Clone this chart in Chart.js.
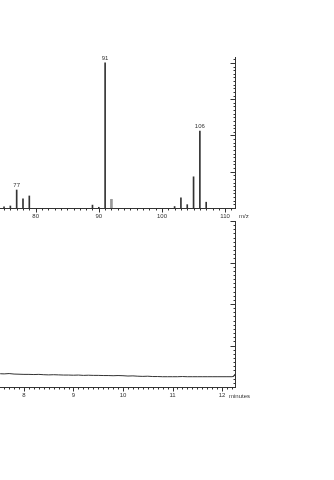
<!DOCTYPE html>
<html>
<head>
<meta charset="utf-8">
<script src="https://cdn.jsdelivr.net/npm/chart.js@4/dist/chart.umd.min.js"></script>
<style>
  html, body { margin: 0; padding: 0; background: #fff; }
  #wrap { position: relative; width: 334px; height: 480px; overflow: hidden; }
  canvas { position: absolute; left: 0; top: 0; }
</style>
</head>
<body>
<div id="wrap">
  <canvas id="spec" width="334" height="480"></canvas>
  <canvas id="tic" width="334" height="480"></canvas>
</div>
<script>
// mass spectrum (relative abundance, %)
const mzValues = [74, 75, 76, 77, 78, 79, 89, 90, 91, 102, 103, 104, 105, 106, 107];
const mzAbund  = [0.6, 0.8, 1.4, 12.4, 6.4, 8.3, 2.0, 0.5, 100, 1.0, 7.0, 2.3, 21.5, 53, 4.0];
const mzGrey   = [92];
const mzGreyAb = [6.0];
const peakLabels = [77, 91, 106];
const mzTicks = [80, 90, 100, 110];

// chromatogram trace (% of full scale)
const rtTimes = [7.52, 7.6, 7.7, 7.8, 7.9, 8.0, 8.1, 8.2, 8.3, 8.4, 8.5, 8.6, 8.7, 8.8, 8.9,
  9.0, 9.1, 9.2, 9.3, 9.4, 9.5, 9.6, 9.7, 9.8, 9.9, 10.0, 10.1, 10.2, 10.3, 10.4, 10.5,
  10.6, 10.7, 10.8, 10.9, 11.0, 11.1, 11.2, 11.3, 11.4, 11.5, 11.6, 11.7, 11.8, 11.9,
  12.0, 12.1, 12.2, 12.24, 12.262];
const rtSignal = [8.0, 7.9, 8.1, 7.8, 7.7, 7.6, 7.6, 7.5, 7.6, 7.4, 7.3, 7.4, 7.3, 7.2, 7.2,
  7.1, 7.2, 7.0, 7.1, 7.0, 7.0, 6.9, 6.9, 6.8, 6.9, 6.8, 6.6, 6.7, 6.5, 6.4, 6.5,
  6.3, 6.3, 6.2, 6.2, 6.2, 6.2, 6.3, 6.2, 6.2, 6.2, 6.2, 6.2, 6.2, 6.2,
  6.2, 6.2, 6.2, 6.4, 7.9];
const rtTicks = [8, 9, 10, 11, 12];

const INK = '#333';
const FONT = { family: "'Liberation Sans', Arial, sans-serif", size: 6 };

// right-hand axis with inward ticks, minor x ticks, unit text, peak labels
const axisDeco = {
  id: 'axisDeco',
  afterDraw(chart, args, o) {
    const { ctx, chartArea: a } = chart;
    const x = chart.scales.x, y = chart.scales.y;
    ctx.save();
    ctx.strokeStyle = INK;
    ctx.lineWidth = 1;
    ctx.beginPath();
    const rx = Math.round(a.right) + 0.5;
    ctx.moveTo(rx, a.top);
    ctx.lineTo(rx, a.bottom);
    const nY = Math.floor(y.max / o.yMinor + 1e-6);
    for (let i = 0; i <= nY; i++) {
      const py = Math.round(y.getPixelForValue(i * o.yMinor)) + 0.5;
      const major = i % o.yEvery === 0;
      ctx.moveTo(rx, py);
      ctx.lineTo(rx - (major ? 5 : 2), py);
    }
    const i0 = Math.ceil(x.min / o.xMinor - 1e-6), i1 = Math.floor(x.max / o.xMinor + 1e-6);
    const by = Math.round(a.bottom) + 0.5;
    for (let i = i0; i <= i1; i++) {
      const px = Math.round(x.getPixelForValue(i * o.xMinor)) + 0.5;
      const major = i % o.xEvery === 0;
      ctx.moveTo(px, by);
      ctx.lineTo(px, by + (major ? 4 : 2));
    }
    ctx.stroke();

    ctx.fillStyle = INK;
    ctx.font = FONT.size + 'px ' + FONT.family;
    ctx.textBaseline = 'middle';
    ctx.textAlign = 'left';
    ctx.fillText(o.unit, o.unitX, o.unitY);

    ctx.textAlign = 'center';
    ctx.textBaseline = 'alphabetic';
    (o.labels || []).forEach(m => {
      const idx = mzValues.indexOf(m);
      ctx.fillText(String(m), x.getPixelForValue(m), y.getPixelForValue(mzAbund[idx]) - 3);
    });
    ctx.restore();
  }
};

function xScale(min, max, ticks, pad) {
  return {
    type: 'linear', min: min, max: max, offset: false,
    afterBuildTicks: s => { s.ticks = ticks.map(v => ({ value: v })); },
    afterFit: s => { s.height = 14; },
    grid: { display: false, drawTicks: false },
    border: { display: true, color: INK, width: 1 },
    ticks: { color: INK, font: FONT, padding: pad, maxRotation: 0, autoSkip: false }
  };
}

new Chart(document.getElementById('spec'), {
  type: 'bar',
  data: {
    datasets: [
      {
        data: mzGrey.map((m, i) => ({ x: m, y: mzGreyAb[i] })),
        backgroundColor: '#9a9a9a', barThickness: 2
      },
      {
        data: mzValues.map((m, i) => ({ x: m, y: mzAbund[i] })),
        backgroundColor: INK, barThickness: 1
      }
    ]
  },
  options: {
    responsive: false, animation: false, grouped: false,
    layout: { padding: { left: 0, right: 99, top: 57, bottom: 480 - 208 - 14 } },
    plugins: {
      legend: { display: false }, tooltip: { enabled: false },
      axisDeco: { yMinor: 2.5, yEvery: 10, xMinor: 1, xEvery: 10, unit: 'm/z', unitX: 239, unitY: 216.5, labels: peakLabels }
    },
    scales: {
      x: xScale(74.36, 111.56, mzTicks, 5),
      y: { display: false, min: 0, max: 104.1 }
    }
  },
  plugins: [axisDeco]
});

new Chart(document.getElementById('tic'), {
  type: 'line',
  data: {
    datasets: [{
      data: rtTimes.map((t, i) => ({ x: t, y: rtSignal[i] })),
      borderColor: INK, borderWidth: 1, pointRadius: 0, tension: 0
    }]
  },
  options: {
    responsive: false, animation: false,
    layout: { padding: { left: 0, right: 99, top: 221, bottom: 480 - 387 - 14 } },
    plugins: {
      legend: { display: false }, tooltip: { enabled: false },
      axisDeco: { yMinor: 2.5, yEvery: 10, xMinor: 0.1, xEvery: 10, unit: 'minutes', unitX: 229, unitY: 396 }
    },
    scales: {
      x: xScale(7.516, 12.262, rtTicks, 5),
      y: { display: false, min: 0, max: 100 }
    }
  },
  plugins: [axisDeco]
});
</script>
</body>
</html>
